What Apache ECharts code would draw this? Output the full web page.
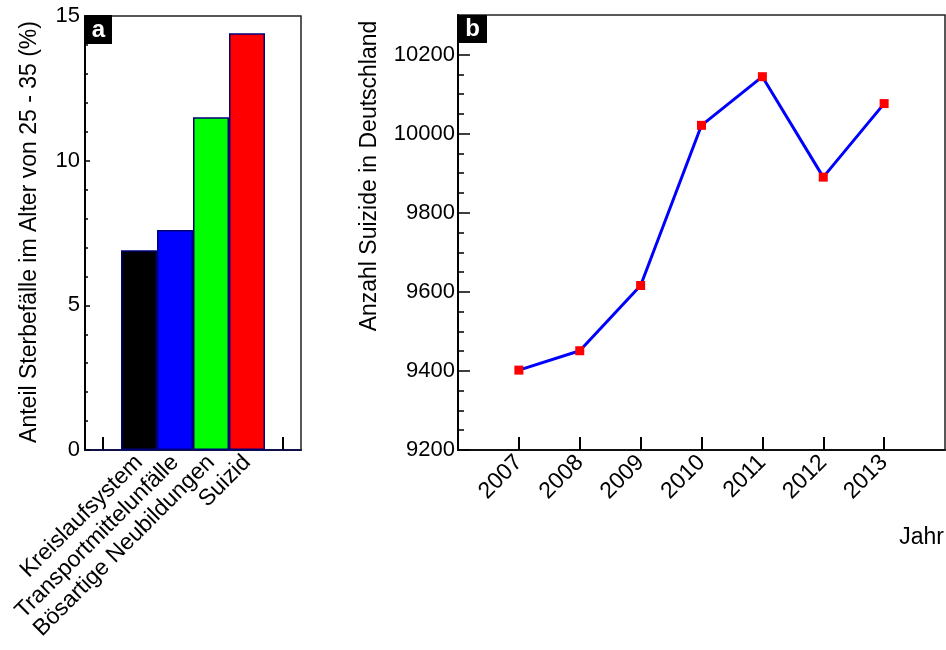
<!DOCTYPE html>
<html>
<head>
<meta charset="utf-8">
<script src="https://cdn.jsdelivr.net/npm/echarts@6/dist/echarts.min.js"></script>
<style>
  html, body { margin: 0; padding: 0; background: #fff; }
  #chart { width: 946px; height: 650px; }
</style>
</head>
<body>
<div id="chart"></div>
<script>
// Panel a: share of deaths at age 25-35 by cause (%)
const causes = ['Kreislaufsystem', 'Transportmittelunfälle', 'Bösartige Neubildungen', 'Suizid'];
const shares = [6.9, 7.6, 11.5, 14.4];

// Panel b: number of suicides in Germany per year
const years = [2007, 2008, 2009, 2010, 2011, 2012, 2013];
const suicides = [9402, 9451, 9616, 10021, 10144, 9890, 10076];

// Axis ticks
const shareTicks = [0, 5, 10, 15];
const countTicks = [9200, 9400, 9600, 9800, 10000, 10200];

const barColors = ['#000000', '#0000ff', '#00ff00', '#ff0000'];
const FONT = 'Liberation Sans, Arial, Helvetica, sans-serif';

const countMinor = [];
countTicks.forEach(function (t, i) {
  if (i < countTicks.length - 1) {
    for (let k = 50; k < 200; k += 50) countMinor.push(t + k);
  }
});

// blank slots on either side of the bars
const barCategories = [''].concat(causes, ['']);
const barData = ['-'].concat(shares.map(function (v, i) {
  return { value: v, itemStyle: { color: barColors[i] } };
}), ['-']);

const chart = echarts.init(document.getElementById('chart'), null, { renderer: 'canvas' });

chart.setOption({
  animation: false,
  backgroundColor: '#ffffff',
  textStyle: { fontFamily: FONT },
  grid: [
    { left: 85, top: 16, width: 216, bottom: 200, show: true, borderColor: '#222', borderWidth: 1.5, backgroundColor: 'transparent' },
    { left: 458, top: 15, right: 1, bottom: 200, show: true, borderColor: '#222', borderWidth: 1.5, backgroundColor: 'transparent' }
  ],
  xAxis: [
    {
      gridIndex: 0, type: 'category', data: barCategories, boundaryGap: true,
      axisLine: { lineStyle: { color: '#10104a', width: 2 } },
      axisTick: { show: true, inside: true, alignWithLabel: true, interval: 0, length: 13, lineStyle: { color: '#000', width: 2 } },
      axisLabel: { rotate: 45, interval: 0, margin: 9, color: '#000', fontSize: 23, fontFamily: FONT },
      splitLine: { show: false }
    },
    {
      gridIndex: 1, type: 'value', min: 2006, max: 2014, interval: 1,
      axisLine: { lineStyle: { color: '#111', width: 2 } },
      axisTick: { show: true, inside: true, length: 13, lineStyle: { color: '#000', width: 2 } },
      axisLabel: {
        rotate: 45, margin: 9, color: '#000', fontSize: 23, fontFamily: FONT,
        showMinLabel: false, showMaxLabel: false,
        formatter: function (v) { return years.indexOf(v) >= 0 ? String(v) : ''; }
      },
      splitLine: { show: false }
    }
  ],
  yAxis: [
    {
      gridIndex: 0, type: 'value', min: shareTicks[0], max: shareTicks[shareTicks.length - 1], interval: 5,
      axisLine: { show: true, lineStyle: { color: '#000', width: 2 } },
      axisTick: { show: true, inside: true, length: 5, lineStyle: { color: '#000', width: 1.5 } },
      minorTick: { show: true, splitNumber: 5, length: 3, lineStyle: { color: '#000', width: 1.5 } },
      axisLabel: { margin: 5, color: '#000', fontSize: 22, fontFamily: FONT },
      splitLine: { show: false }
    },
    {
      gridIndex: 1, type: 'value', position: 'left', min: 9200, max: 10300,
      axisLine: { show: true, lineStyle: { color: '#000', width: 2 } },
      axisTick: { show: true, inside: true, length: 12, customValues: countTicks, lineStyle: { color: '#000', width: 1.5 } },
      axisLabel: {
        margin: 3, color: '#000', fontSize: 22, fontFamily: FONT, customValues: countTicks,
        formatter: function (v) { return String(v); }
      },
      splitLine: { show: false }
    },
    {
      gridIndex: 1, type: 'value', position: 'left', offset: 0, min: 9200, max: 10300,
      axisLine: { show: false },
      axisTick: { show: true, inside: true, length: 6, customValues: countMinor, lineStyle: { color: '#000', width: 1.5 } },
      axisLabel: { show: false },
      splitLine: { show: false }
    }
  ],
  series: [
    {
      type: 'bar', xAxisIndex: 0, yAxisIndex: 0,
      data: barData, barWidth: '100%', barGap: '0%', barCategoryGap: '0%',
      itemStyle: { borderColor: '#00007a', borderWidth: 1.5 }
    },
    {
      type: 'line', xAxisIndex: 1, yAxisIndex: 1,
      data: years.map(function (y, i) { return [y, suicides[i]]; }),
      lineStyle: { color: '#0000ff', width: 3 },
      symbol: 'rect', symbolSize: 9, showSymbol: true,
      itemStyle: { color: '#ff0000' },
      z: 5
    }
  ],
  graphic: [
    {
      type: 'text', x: 30, y: 232, rotation: Math.PI / 2,
      style: { text: 'Anteil Sterbefälle im Alter von 25 - 35 (%)', fill: '#000', font: '23px ' + FONT,
               align: 'center', verticalAlign: 'middle', textAlign: 'center', textVerticalAlign: 'middle' }
    },
    {
      type: 'text', x: 370, y: 176, rotation: Math.PI / 2,
      style: { text: 'Anzahl Suizide in Deutschland', fill: '#000', font: '23px ' + FONT,
               align: 'center', verticalAlign: 'middle', textAlign: 'center', textVerticalAlign: 'middle' }
    },
    {
      type: 'text', x: 944, y: 538,
      style: { text: 'Jahr', fill: '#000', font: '23px ' + FONT,
               align: 'right', verticalAlign: 'middle', textAlign: 'right', textVerticalAlign: 'middle' }
    },
    { type: 'rect', shape: { x: 85, y: 15, width: 27, height: 29 }, style: { fill: '#000' }, z: 10 },
    {
      type: 'text', x: 98.5, y: 30, z: 11,
      style: { text: 'a', fill: '#fff', font: 'bold 24px ' + FONT,
               align: 'center', verticalAlign: 'middle', textAlign: 'center', textVerticalAlign: 'middle' }
    },
    { type: 'rect', shape: { x: 458, y: 15, width: 29, height: 28 }, style: { fill: '#000' }, z: 10 },
    {
      type: 'text', x: 472.5, y: 29.5, z: 11,
      style: { text: 'b', fill: '#fff', font: 'bold 24px ' + FONT,
               align: 'center', verticalAlign: 'middle', textAlign: 'center', textVerticalAlign: 'middle' }
    }
  ]
});
</script>
</body>
</html>
